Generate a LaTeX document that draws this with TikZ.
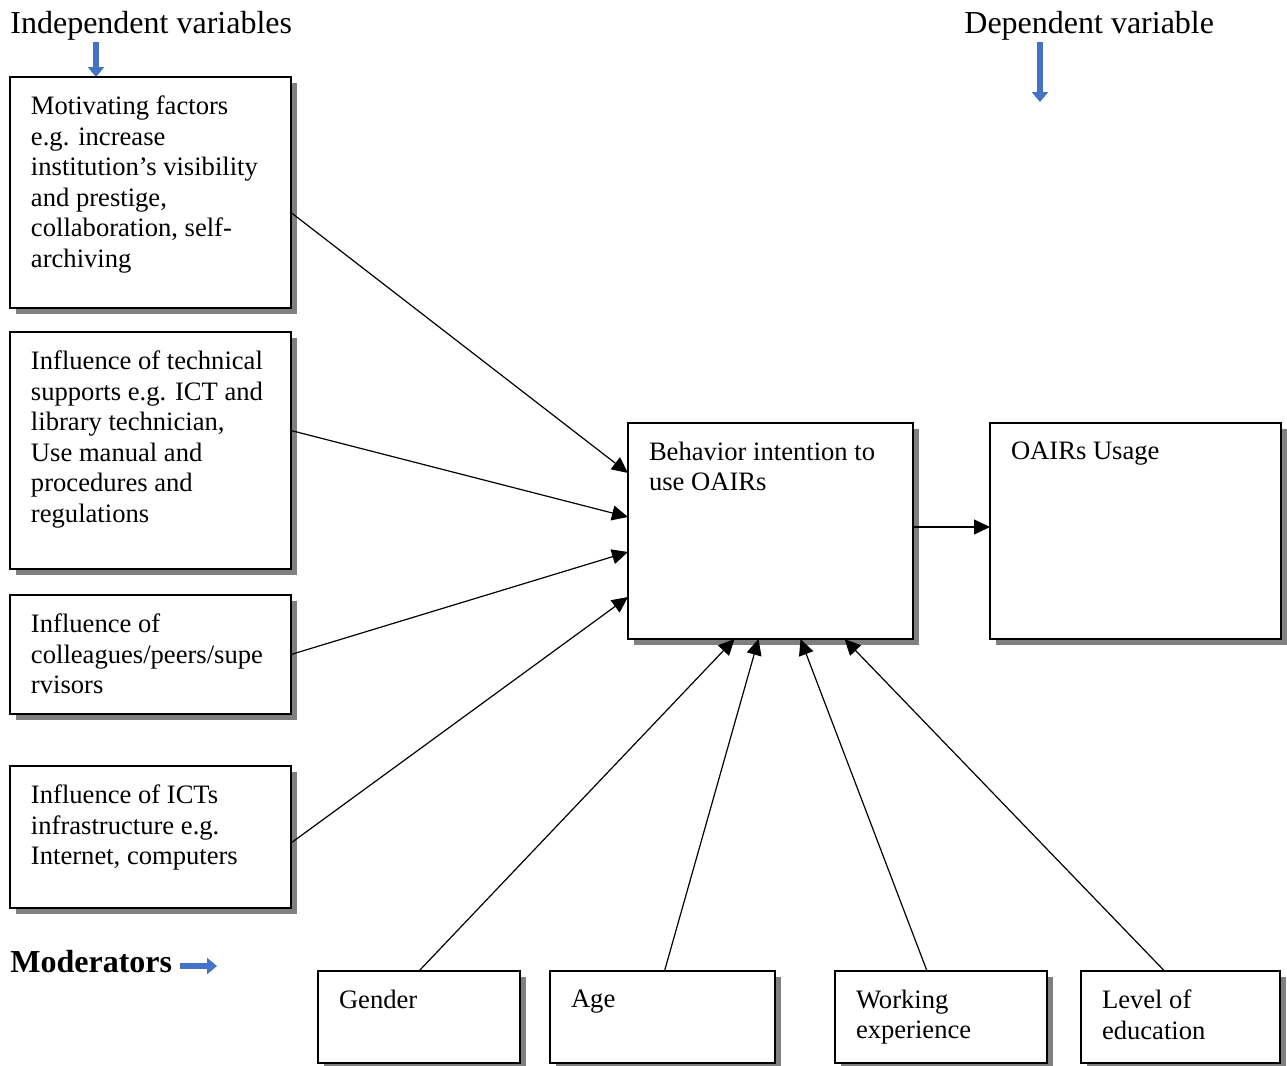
\documentclass[tikz,border=0pt]{standalone}
\usepackage{fontspec}
\setmainfont{Liberation Serif}
\usepackage{tikz}
\usetikzlibrary{positioning}
\usetikzlibrary{arrows.meta}
\usetikzlibrary{shadows}
\usepackage{xcolor}
\definecolor{arrowblue}{HTML}{4472C4}
\newcommand{\boxtext}[3]{\parbox[t][#2][t]{#1}{\raggedright #3}}

\tikzset{
  factor/.style={draw, line width=0.9pt, fill=white, anchor=north west,
    drop shadow={shadow xshift=2.8pt, shadow yshift=-2.8pt, fill=gray, opacity=1},
    inner xsep=10.5pt, inner ysep=9.5pt, outer sep=0pt,
    font=\fontsize{13.3}{15.25}\selectfont},
  heading/.style={anchor=base west, inner sep=0pt, font=\fontsize{16}{19}\selectfont},
  link/.style={line width=0.6pt, -{Triangle[length=8pt,width=7.5pt]}},
  bluearrow/.style={line width=3.2pt, draw=arrowblue, -{Triangle[length=5pt,width=8pt]}}
}

\begin{document}
\begin{tikzpicture}[x=0.5pt, y=-0.5pt]
    \useasboundingbox (0,0) rectangle (1287,1066);
    % headings
    \node[heading] (indep) at (10,33) {Independent variables};
    \node[heading] (dep) at (964,33) {Dependent variable};
    \node[heading, font=\fontsize{16}{19}\selectfont\bfseries] (moder) at (10,972) {Moderators};
    \coordinate (indA) at (96,42);
    \coordinate (indB) at (96,77);
    \coordinate (depA) at (1040,42);
    \coordinate (depB) at (1040,102);
    \coordinate (modA) at (180,966);
    \coordinate (modB) at (217,966);
    \draw[bluearrow] (indA) -- (indB);
    \draw[bluearrow] (depA) -- (depB);
    \draw[bluearrow, line width=2.6pt] (modA) -- (modB);
    % independent variables
    \node[factor] (m1) at (10,77) {\boxtext{119.5pt}{96.5pt}{Motivating factors\\
      e.g. increase\\ institution’s visibility\\ and prestige,\\ collaboration, self-\\ archiving}};
    \node[factor] (m2) at (10,332) {\boxtext{119.5pt}{99.5pt}{Influence of technical\\
      supports e.g. ICT and\\ library technician,\\ Use manual and\\ procedures and\\ regulations}};
    \node[factor] (m3) at (10,595) {\boxtext{119.5pt}{40.5pt}{Influence of\\
      colleagues/peers/supe\\ rvisors}};
    \node[factor] (m4) at (10,766) {\boxtext{119.5pt}{52pt}{Influence of ICTs\\
      infrastructure e.g.\\ Internet, computers}};
    % intention and usage
    \node[factor] (beh) at (628,423) {\boxtext{121.5pt}{89pt}{Behavior intention to\\ use OAIRs}};
    \node[factor] (use) at (990,423) {\boxtext{124.5pt}{89pt}{OAIRs Usage}};
    % moderators
    \node[factor] (gen) at (318,971) {\boxtext{80pt}{27pt}{Gender}};
    \node[factor] (age) at (550,971) {\boxtext{91.5pt}{27pt}{Age}};
    \node[factor] (wrk) at (835,971) {\boxtext{85pt}{27pt}{Working\\ experience}};
    \node[factor] (edu) at (1081,971) {\boxtext{78.5pt}{27pt}{Level of\\ education}};
    % connectors
    \foreach \src/\sy/\ty in {m1/-10/29, m2/10/7, m3/0/-10.5, m4/-3/-33} {
      \draw[link] ([yshift=\sy pt]\src.east) -- ([yshift=\ty pt]beh.west);
    }
    \foreach \src/\sx/\tx in {gen/0/-18, age/1/-6, wrk/-7/15, edu/-8/37} {
      \draw[link] ([xshift=\sx pt]\src.north) -- ([xshift=\tx pt]beh.south);
    }
    \draw[link] ([yshift=2pt]beh.east) -- ([yshift=2pt]use.west);
  \end{tikzpicture}
\end{document}
